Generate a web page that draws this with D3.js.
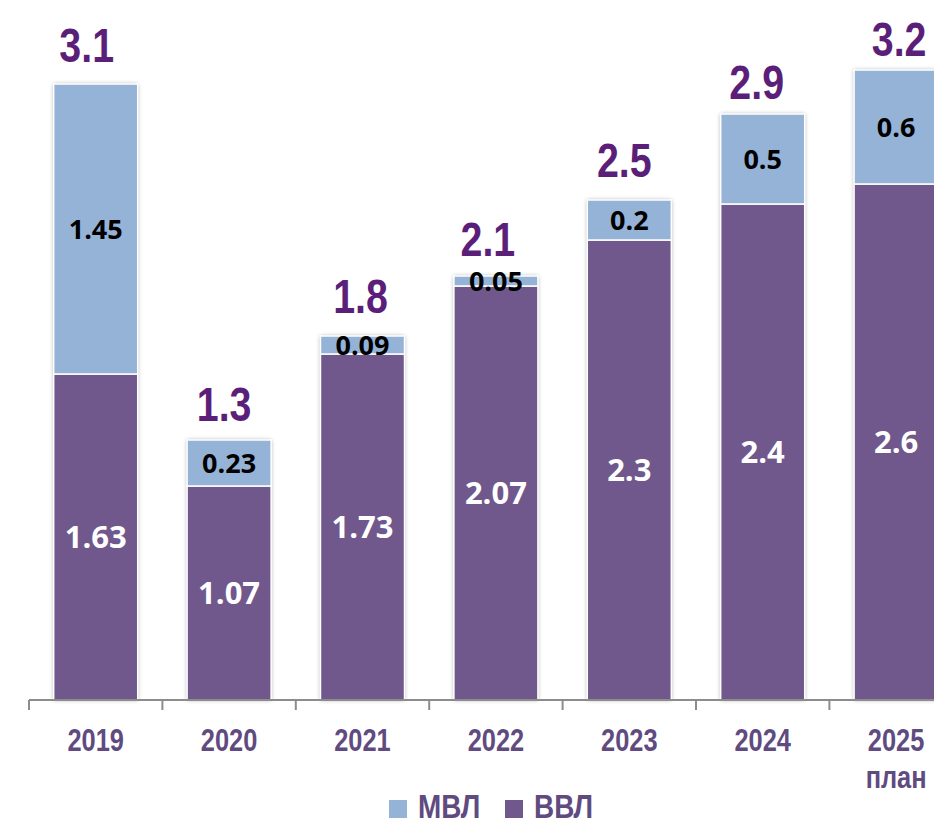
<!DOCTYPE html>
<html>
<head>
<meta charset="utf-8">
<script src="https://cdn.jsdelivr.net/npm/d3@7"></script>
<style>
  html, body { margin: 0; padding: 0; background: #fff; overflow: hidden; }
  svg { display: block; }
</style>
</head>
<body>
<svg id="chart" width="934" height="823"></svg>
<script>
// ---- data ----
const years = ["2019", "2020", "2021", "2022", "2023", "2024", "2025"];
const yearSub = ["", "", "", "", "", "", "план"];
const vvl = [1.63, 1.07, 1.73, 2.07, 2.30, 2.48, 2.58];   // ВВЛ
const mvl = [1.45, 0.23, 0.09, 0.05, 0.20, 0.45, 0.57];   // МВЛ
const vvlLabels = ["1.63", "1.07", "1.73", "2.07", "2.3", "2.4", "2.6"];
const mvlLabels = ["1.45", "0.23", "0.09", "0.05", "0.2", "0.5", "0.6"];
const totalLabels = ["3.1", "1.3", "1.8", "2.1", "2.5", "2.9", "3.2"];
const seriesNames = ["МВЛ", "ВВЛ"];

// ---- layout (hand-placed total label nudges, as in the original) ----
const totalDx = [-9, -5, -2, -8, -5, -6, 3];
const totalGap = [22, 19, 23, 20, 23, 15, 14];

// ---- styles ----
const C_VVL = "#70588c", C_MVL = "#95b3d7", C_TOTAL = "#5b1f7a", C_AXTXT = "#5f4b7f", C_AX = "#8c8c8c";
const ARIAL = "'Liberation Sans', Arial, sans-serif";
const INNER = "'Open Sans', 'Noto Sans', sans-serif";
const NARROW_SCALE = 0.82;

const svg = d3.select("#chart");
const baseY = 700;
const x = d3.scaleBand().domain(years).range([29, 29 + 7 * 133.4]).padding(0);
const y = d3.scaleLinear().domain([0, 3.5]).range([baseY, baseY - 700]);
const barW = x.bandwidth() * 0.63;
const cx = d => x(d.yr) + x.bandwidth() / 2;

const defs = svg.append("defs");
const f = defs.append("filter").attr("id", "sh").attr("x", "-20%").attr("y", "-20%").attr("width", "140%").attr("height", "140%");
f.append("feDropShadow").attr("dx", 0).attr("dy", 0).attr("stdDeviation", 2.2).attr("flood-color", "#000").attr("flood-opacity", 0.35);

const data = years.map((yr, i) => ({ yr, i, v: vvl[i], m: mvl[i] }));

// narrow text helper (Arial Narrow look: Arial bold squeezed horizontally)
function narrowText(sel, px, py, size, fill, anchor) {
  const gg = sel.append("g").attr("transform", d => `translate(${px(d)},${py(d)}) scale(${NARROW_SCALE},1)`);
  return gg.append("text")
    .attr("text-anchor", anchor || "middle")
    .attr("font-family", ARIAL).attr("font-weight", 700).attr("font-size", size)
    .attr("fill", fill);
}

// bars
const g = svg.append("g");
const bar = g.selectAll("g.bar").data(data).join("g").attr("class", "bar");
bar.append("rect")
  .attr("x", d => x(d.yr) + (x.bandwidth() - barW) / 2)
  .attr("y", d => y(d.v + d.m))
  .attr("width", barW)
  .attr("height", d => y(0) - y(d.v + d.m))
  .attr("fill", "#fff")
  .attr("filter", "url(#sh)");
bar.append("rect")
  .attr("x", d => x(d.yr) + (x.bandwidth() - barW) / 2)
  .attr("y", d => y(d.v))
  .attr("width", barW)
  .attr("height", d => y(0) - y(d.v))
  .attr("fill", C_VVL).attr("stroke", "#fff").attr("stroke-width", 1.5);
bar.append("rect")
  .attr("x", d => x(d.yr) + (x.bandwidth() - barW) / 2)
  .attr("y", d => y(d.v + d.m))
  .attr("width", barW)
  .attr("height", d => y(d.v) - y(d.v + d.m))
  .attr("fill", C_MVL).attr("stroke", "#fff").attr("stroke-width", 1.5);

// inner labels
bar.append("text")
  .attr("x", cx)
  .attr("y", d => (y(0) + y(d.v)) / 2)
  .attr("dy", "0.36em")
  .attr("text-anchor", "middle")
  .attr("font-family", INNER).attr("font-weight", 700).attr("font-size", 31)
  .attr("fill", "#fff")
  .text(d => vvlLabels[d.i]);
bar.append("text")
  .attr("x", cx)
  .attr("y", d => (y(d.v) + y(d.v + d.m)) / 2)
  .attr("dy", "0.36em")
  .attr("text-anchor", "middle")
  .attr("font-family", INNER).attr("font-weight", 700).attr("font-size", 27)
  .attr("fill", "#000")
  .text(d => mvlLabels[d.i]);
// totals
narrowText(bar, d => cx(d) + totalDx[d.i], d => y(d.v + d.m) - totalGap[d.i], 48, C_TOTAL)
  .text(d => totalLabels[d.i]);

// axis
const ax = svg.append("g").attr("transform", `translate(0,${baseY})`)
  .call(d3.axisBottom(x).tickSize(0).tickPadding(0));
ax.select(".domain").attr("stroke", C_AX).attr("stroke-width", 2).attr("d", `M${x.range()[0]},0H${x.range()[1]}`);
ax.selectAll(".tick text").remove();
const bounds = years.map(yr => x(yr)).concat([x.range()[1]]);
ax.selectAll("line.bd").data(bounds).join("line").attr("class", "bd")
  .attr("x1", d => d).attr("x2", d => d).attr("y1", 0).attr("y2", 10)
  .attr("stroke", C_AX).attr("stroke-width", 2);

const labG = svg.append("g").selectAll("g").data(data).join("g");
narrowText(labG, cx, () => 751, 31, C_AXTXT).text(d => d.yr);
narrowText(labG.filter(d => yearSub[d.i]), cx, () => 788, 31, C_AXTXT).text(d => yearSub[d.i]);

// legend
const legColors = [C_MVL, C_VVL];
const legX = [389, 505];
const lg = svg.append("g").selectAll("g").data(seriesNames).join("g")
  .attr("transform", (d, i) => `translate(${legX[i]},0)`);
lg.append("rect").attr("x", 0).attr("y", 800).attr("width", 18).attr("height", 18)
  .attr("fill", (d, i) => legColors[i]);
narrowText(lg, () => 29, () => 818, 34, C_AXTXT, "start").text(d => d);
</script>
</body>
</html>
